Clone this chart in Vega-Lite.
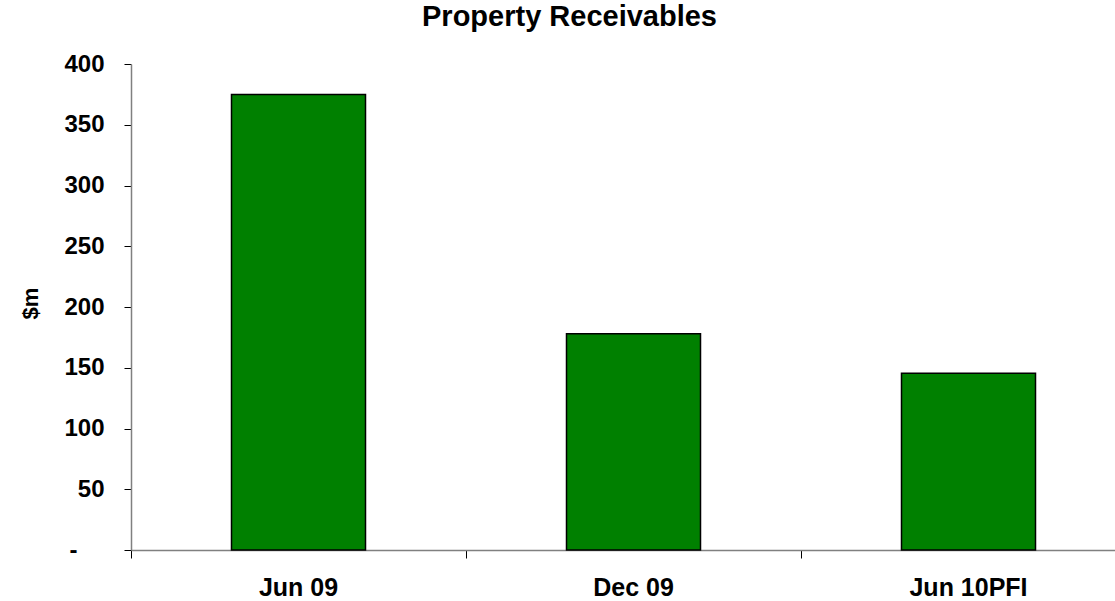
{
  "$schema": "https://vega.github.io/schema/vega-lite/v6.json",
  "autosize": {"type": "none"},
  "padding": {"left": 131, "top": 64, "right": 0, "bottom": 51},
  "width": 1005,
  "height": 486,
  "background": "white",
  "title": {
    "text": "Property Receivables",
    "font": "Liberation Sans",
    "fontSize": 29,
    "fontWeight": "bold",
    "color": "#000000",
    "anchor": "middle",
    "dx": -64,
    "baseline": "alphabetic",
    "offset": -3
  },
  "data": {
    "values": [
      {"period": "Jun 09", "value": 375},
      {"period": "Dec 09", "value": 178},
      {"period": "Jun 10PFI", "value": 145.5}
    ]
  },
  "mark": {"type": "bar", "fill": "#008000", "stroke": "#000000", "strokeWidth": 1.5, "width": {"band": 0.4}},
  "encoding": {
    "x": {
      "field": "period",
      "type": "nominal",
      "sort": null,
      "scale": {"paddingInner": 0, "paddingOuter": 0},
      "axis": {
        "title": null,
        "bandPosition": 0,
        "labelAngle": 0,
        "labelAlign": "center",
        "labelFont": "Liberation Sans",
        "labelFontSize": 25,
        "labelFontWeight": "bold",
        "labelColor": "#000000",
        "labelBaseline": "top",
        "labelPadding": 17,
        "tickSize": 8,
        "tickColor": "#000000",
        "domainColor": "#808080",
        "domainWidth": 1.5,
        "grid": false
      }
    },
    "y": {
      "field": "value",
      "type": "quantitative",
      "scale": {"domain": [0, 400], "nice": false},
      "axis": {
        "title": "$m",
        "titleFont": "Liberation Sans",
        "titleFontSize": 22,
        "titleFontWeight": "bold",
        "titleColor": "#000000",
        "titleAngle": -90,
        "titleAlign": "center",
        "titleBaseline": "alphabetic",
        "titleX": -94,
        "titleY": 239,
        "values": [0, 50, 100, 150, 200, 250, 300, 350, 400],
        "labelExpr": "datum.value == 0 ? '-' : datum.label",
        "labelFont": "Liberation Sans",
        "labelFontSize": 24,
        "labelFontWeight": "bold",
        "labelColor": "#000000",
        "labelPadding": {"condition": {"test": "datum.value == 0", "value": 47}, "value": 20},
        "labelOverlap": false,
        "tickSize": 7,
        "tickColor": "#000000",
        "domainColor": "#808080",
        "domainWidth": 1.5,
        "grid": false
      }
    }
  },
  "config": {"view": {"stroke": null}}
}
